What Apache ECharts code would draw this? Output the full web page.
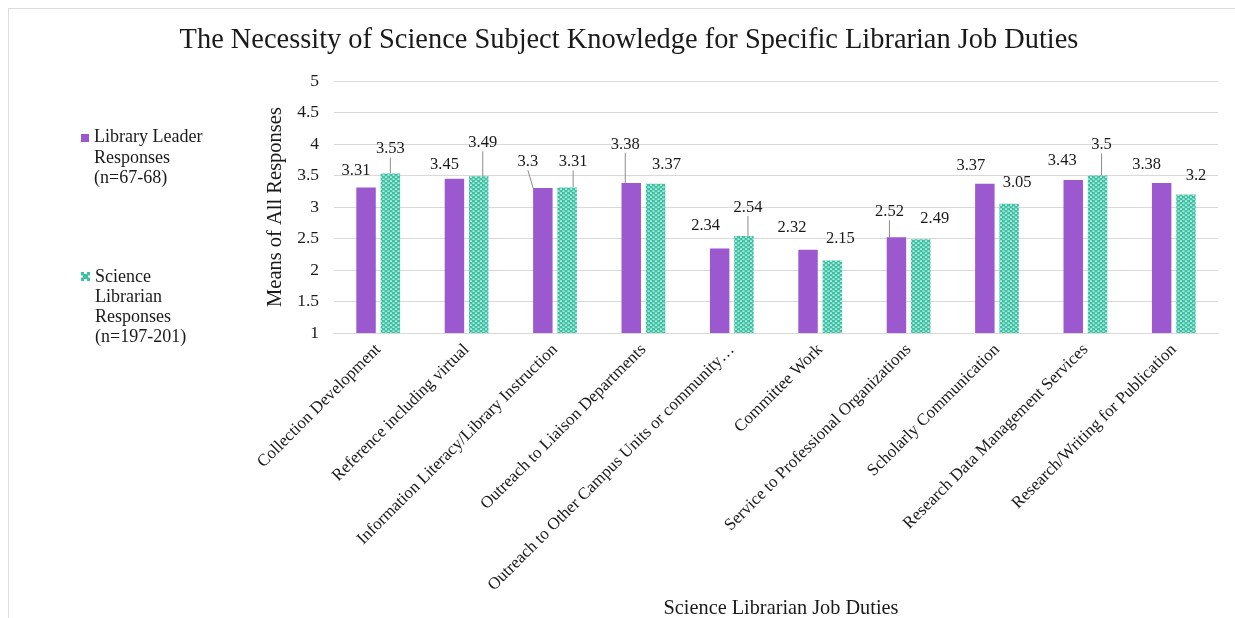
<!DOCTYPE html>
<html>
<head>
<meta charset="utf-8">
<script src="https://cdn.jsdelivr.net/npm/echarts@6/dist/echarts.min.js"></script>
<style>
html,body{margin:0;padding:0;background:#fff;}
#chart{width:1235px;height:618px;}
#frame{position:absolute;left:8px;top:8px;width:1227px;height:610px;border-top:1px solid #dcdcdc;border-left:1px solid #dcdcdc;pointer-events:none;}
</style>
</head>
<body>
<div id="chart"></div>
<div id="frame"></div>
<script>
// ---- data ----
const categories = [
  'Collection Development',
  'Reference including virtual',
  'Information Literacy/Library Instruction',
  'Outreach to Liaison Departments',
  'Outreach to Other Campus Units or community…',
  'Committee Work',
  'Service to Professional Organizations',
  'Scholarly Communication',
  'Research Data Management Services',
  'Research/Writing for Publication'
];
const leaderValues = [3.31, 3.45, 3.3, 3.38, 2.34, 2.32, 2.52, 3.37, 3.43, 3.38];
const scienceValues = [3.53, 3.49, 3.31, 3.37, 2.54, 2.15, 2.49, 3.05, 3.5, 3.2];
const seriesNames = ['Library Leader Responses (n=67-68)', 'Science Librarian Responses (n=197-201)'];
const legendLabels = ['Library Leader\nResponses\n(n=67-68)', 'Science\nLibrarian\nResponses\n(n=197-201)'];
const yTicks = {min: 1, max: 5, interval: 0.5};

// ---- label placement (style, not data) ----
const leaderLabelShift = [[-10,-3],[-10,0],[-15,-13],[-6,-25],[-14,-9],[-16,-9],[-7,-12],[-14,-5],[-11,-6],[-15,-5]];
const scienceLabelShift = [[0,-11],[4,-20],[6,-12],[11,-6],[4,-15],[8,-8],[14,-7],[8,-8],[4,-17],[10,-5]];
const leaderLine = [false,false,true,true,false,false,true,false,false,false];
const scienceLine = [true,true,true,false,true,false,false,false,true,false];

const PURPLE = '#9b58cf';
const GREEN = '#3cc2a5';
const SERIF = '"Liberation Serif","DejaVu Serif",serif';

function makePattern(){
  const c = document.createElement('canvas');
  c.width = 5; c.height = 4;
  const g = c.getContext('2d');
  g.fillStyle = GREEN; g.fillRect(0,0,5,4);
  g.fillStyle = 'rgba(255,255,255,0.9)';
  g.fillRect(0,0.5,2,1.2);
  g.fillRect(2.5,2.5,2,1.2);
  return c;
}
const pattern = makePattern();

function legendIcon(w, h, y0, size, fill){
  const c = document.createElement('canvas');
  c.width = w; c.height = h;
  const g = c.getContext('2d');
  if (fill === 'pattern') {
    g.fillStyle = GREEN; g.fillRect(0,y0,size,size);
    g.fillStyle = '#ffffff';
    g.fillRect(3,y0,3,2); g.fillRect(0,y0+3.5,2,2); g.fillRect(7,y0+3.5,2,2); g.fillRect(3,y0+7,3,2);
  } else {
    g.fillStyle = fill; g.fillRect(0,y0,size,size);
  }
  return 'image://' + c.toDataURL();
}

function buildData(values, lines){
  return values.map((v,i) => ({value: v, labelLine: {show: lines[i]}}));
}

const chart = echarts.init(document.getElementById('chart'));
chart.setOption({
  backgroundColor: '#fff',
  animation: false,
  title: [
    {text: 'The Necessity of Science Subject Knowledge for Specific Librarian Job Duties',
     left: 624, top: 22, textAlign: 'center',
     textStyle: {fontFamily: SERIF, fontSize: 28.4, fontWeight: 'normal', color: '#1a1a1a'}},
    {text: 'Science Librarian Job Duties', left: 776, top: 594, textAlign: 'center',
     textStyle: {fontFamily: SERIF, fontSize: 20.3, fontWeight: 'normal', color: '#1a1a1a'}}
  ],
  legend: [
    {data: [seriesNames[0]], orient: 'vertical', left: 81, top: 127, padding: 0,
     itemWidth: 8, itemHeight: 62, icon: legendIcon(8, 62, 7, 8, PURPLE),
     formatter: () => legendLabels[0],
     textStyle: {fontFamily: SERIF, fontSize: 18, lineHeight: 20.5, color: '#1a1a1a'}},
    {data: [seriesNames[1]], orient: 'vertical', left: 81, top: 267, padding: 0,
     itemWidth: 9, itemHeight: 80, icon: legendIcon(9, 80, 5, 9, 'pattern'),
     formatter: () => legendLabels[1],
     textStyle: {fontFamily: SERIF, fontSize: 18, lineHeight: 20, color: '#1a1a1a'}}
  ],
  grid: {left: 334, right: 17, top: 81, bottom: 285, containLabel: false},
  xAxis: {
    type: 'category', data: categories,
    axisLine: {show: true, lineStyle: {color: '#d9d9d9'}},
    axisTick: {show: false},
    axisLabel: {interval: 0, rotate: 45, margin: 14, fontFamily: SERIF, fontSize: 17, color: '#1a1a1a'}
  },
  yAxis: {
    type: 'value', min: yTicks.min, max: yTicks.max, interval: yTicks.interval,
    name: 'Means of All Responses', nameLocation: 'middle', nameGap: 44,
    nameTextStyle: {fontFamily: SERIF, fontSize: 20.5, color: '#1a1a1a'},
    axisLine: {show: false}, axisTick: {show: false},
    axisLabel: {margin: 15, fontFamily: SERIF, fontSize: 17.5, color: '#1a1a1a'},
    splitLine: {lineStyle: {color: '#d9d9d9'}}
  },
  series: [
    {name: seriesNames[0], type: 'bar', data: buildData(leaderValues, leaderLine),
     barWidth: '22%', barGap: '25%',
     itemStyle: {color: PURPLE},
     label: {show: true, position: 'top', distance: 5, fontFamily: SERIF, fontSize: 16.5, color: '#1a1a1a'},
     labelLine: {lineStyle: {color: '#8c8c8c', width: 1}},
     labelLayout: p => ({dx: leaderLabelShift[p.dataIndex][0], dy: leaderLabelShift[p.dataIndex][1]})},
    {name: seriesNames[1], type: 'bar', data: buildData(scienceValues, scienceLine),
     barWidth: '22%', barGap: '25%',
     itemStyle: {color: {image: pattern, repeat: 'repeat'}},
     label: {show: true, position: 'top', distance: 5, fontFamily: SERIF, fontSize: 16.5, color: '#1a1a1a'},
     labelLine: {lineStyle: {color: '#8c8c8c', width: 1}},
     labelLayout: p => ({dx: scienceLabelShift[p.dataIndex][0], dy: scienceLabelShift[p.dataIndex][1]})}
  ]
});
</script>
</body>
</html>
